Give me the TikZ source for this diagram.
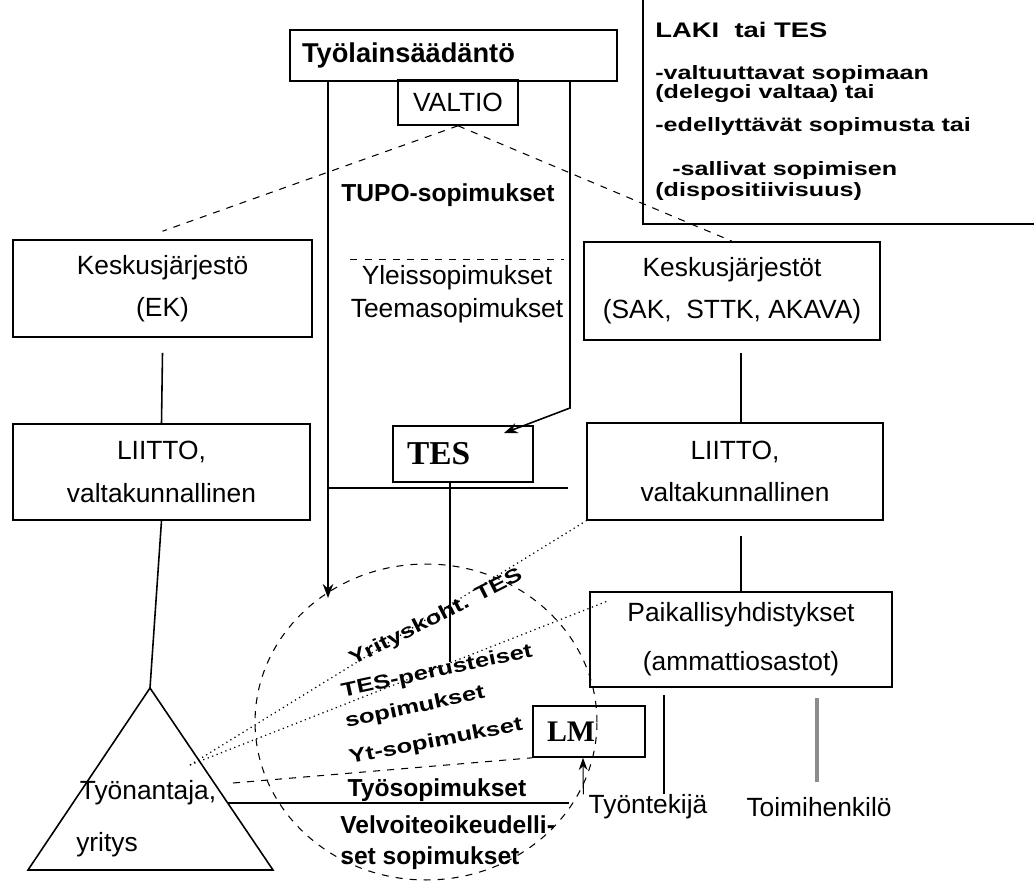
\documentclass[tikz,border=0pt]{standalone}
\usepackage{fontspec}
\setmainfont{Liberation Sans}
\newfontfamily\serifbf{Liberation Serif Bold}
\newfontfamily\widebf[FakeStretch=1.3]{Liberation Sans Bold}
\usetikzlibrary{arrows.meta}

\begin{document}
\begin{tikzpicture}[x=0.02cm,y=-0.02cm,
  nbox/.style={draw,line width=0.9pt,inner sep=0pt,align=center,
    font=\fontsize{15}{24}\selectfont},
  sz/.style 2 args={minimum width=#1*0.02cm,minimum height=#2*0.02cm},
  txt/.style={font=\fontsize{15}{18.7}\selectfont,inner sep=0pt},
  btxt/.style={font=\fontsize{14}{17.5}\selectfont\bfseries,inner sep=0pt},
  rot/.style={font=\fontsize{11.2}{13}\widebf,inner sep=0pt},
  lawln/.style={font=\fontsize{11}{13}\widebf,anchor=base west,inner sep=0pt},
  ln/.style={line width=0.9pt},
  arr/.style={line width=0.9pt,-{Stealth[length=8pt,width=6pt]}},
  dsh/.style={line width=0.6pt,dash pattern=on 4pt off 4pt},
  dotln/.style={line width=0.7pt,dotted}]
  \useasboundingbox (0,0) rectangle (1034,885);

  % state level
  \node[nbox,sz={327}{51},text width=6.06cm,inner xsep=0.24cm,align=left,
    font=\fontsize{15.5}{18}\selectfont\bfseries] (lainsaad) at (453.5,55.5) {Työlainsäädäntö};
  \node[nbox,sz={120}{45}] (valtio) at (458,102.5) {VALTIO};

  % law or TES
  \draw[ln] (643,0) -- (643,224) -- (1034,224);
  \node[lawln,font=\fontsize{12}{14}\widebf] (law1) at (655,38) {LAKI\ \ tai TES};
  \node[lawln] (law2) at (655,80) {-valtuuttavat sopimaan};
  \node[lawln] (law3) at (655,99) {(delegoi valtaa) tai};
  \node[lawln] (law4) at (655,132) {-edellyttävät sopimusta tai};
  \node[lawln] (law5) at (672,176) {-sallivat sopimisen};
  \node[lawln] (law6) at (655,196) {(dispositiivisuus)};

  % central agreements
  \node[btxt,anchor=west] (tupo) at (341,195) {TUPO-sopimukset};
  \node[txt,align=center] (yleis) at (457,294) {Yleissopimukset\\Teemasopimukset};
  \draw[dsh] ([yshift=0.1cm]yleis.north west) -- ([yshift=0.1cm]yleis.north east);

  % organisations
  \node[nbox,sz={299}{97}] (keskusEK) at (162.5,288.5) {Keskusjärjestö\\(EK)};
  \node[nbox,sz={296}{98}] (keskusPL) at (732,291) {Keskusjärjestöt\\(SAK,\ \ STTK, AKAVA)};
  \node[nbox,sz={297}{96}] (liittoTA) at (161.5,472) {LIITTO,\\valtakunnallinen};
  \node[nbox,sz={296}{97}] (liittoPL) at (735,471.5) {LIITTO,\\valtakunnallinen};
  \node[nbox,sz={140}{56},text width=2.24cm,inner xsep=0.28cm,align=left,
    font=\fontsize{19}{22}\serifbf] (tes) at (463,454) {TES};
  \node[nbox,sz={302}{95}] (paikal) at (741,639.5) {Paikallisyhdistykset\\[4pt](ammattiosastot)};
  \node[nbox,sz={112}{51},text width=1.68cm,inner xsep=0.28cm,align=left,
    font=\fontsize{17}{20}\serifbf] (lm) at (589,731.5) {LM};

  \draw[dsh] (valtio.south) -- ([yshift=0.16cm]keskusEK.north);
  \draw[dsh] (valtio.south) -- (keskusPL.north);

  % from the law downwards
  \coordinate (arrL) at (328,598);
  \coordinate (bendR) at (570,408);
  \draw[arr] (lainsaad.south -| arrL) -- (arrL);
  \draw[arr] (lainsaad.south -| bendR) -- (bendR) -- ([shift={(-0.6cm,-0.16cm)}]tes.north east);
  \coordinate (hzR) at (568,488);
  \draw[ln] (arrL |- hzR) -- (hzR);
  \coordinate (tesEnd) at (450,662);
  \draw[ln] (tes.south -| tesEnd) -- (tesEnd);

  % employer side
  \coordinate (apex) at (150,688);
  \coordinate (bl) at (28,870);
  \coordinate (br) at (273,870);
  \draw[ln] ([yshift=-0.3cm]keskusEK.south) -- (liittoTA.north);
  \draw[ln] (liittoTA.south) -- (apex);
  \draw[ln] (apex) -- (br) -- (bl) -- cycle;
  \node[txt] (tyonant) at (148,793) {Työnantaja,};
  \node[txt] (yritys) at (107,845) {yritys};

  % employee side
  \draw[ln] ([yshift=-0.24cm]keskusPL.south -| paikal.north) -- (liittoPL.north -| paikal.north);
  \draw[ln] ([yshift=-0.3cm]liittoPL.south -| paikal.north) -- (paikal.north);
  \node[txt] (tyontek) at (648,807) {Työntekijä};
  \node[txt] (toimih) at (819,807) {Toimihenkilö};
  \coordinate (tkTop) at (664,695);
  \coordinate (thTop) at (817,698);
  \draw[ln] (tkTop) -- (tkTop |- tyontek.north);
  \draw[black!45,line width=1.8pt] (thTop) -- ([yshift=0.3cm]toimih.north -| thTop);

  % workplace level
  \draw[dsh] (426,722) ellipse [x radius=3.42cm,y radius=3.16cm];
  \coordinate (tp) at (190,765);
  \draw[dotln] (tp) -- (liittoPL.south west);
  \draw[dotln] (tp) -- ([shift={(0.36cm,-0.2cm)}]paikal.north west);
  \coordinate (ytL) at (233,783);
  \draw[dsh] (ytL) -- (lm.south west);
  \coordinate (tsL) at (228,803);
  \coordinate (tsR) at (569,803);
  \draw[ln] (tsL) -- (tsR);
  \draw[line width=0.6pt,-{Stealth[length=7pt,width=5pt]}] ([xshift=-0.1cm]tyontek.north west) -- ([xshift=-0.12cm]lm.south);

  \node[rot,rotate=27] (yrit) at (436,618) {Yrityskoht. TES};
  \node[rot,rotate=12] (tesper) at (437,672) {TES-perusteiset};
  \node[rot,rotate=12] (sopim) at (415,708) {sopimukset};
  \node[rot,rotate=11] (ytsop) at (436,742) {Yt-sopimukset};
  \node[btxt] (tyosop) at (437,790) {Työsopimukset};
  \node[btxt,align=left,anchor=west] (velv) at (340,843) {Velvoiteoikeudelli-\\set sopimukset};
\end{tikzpicture}
\end{document}
